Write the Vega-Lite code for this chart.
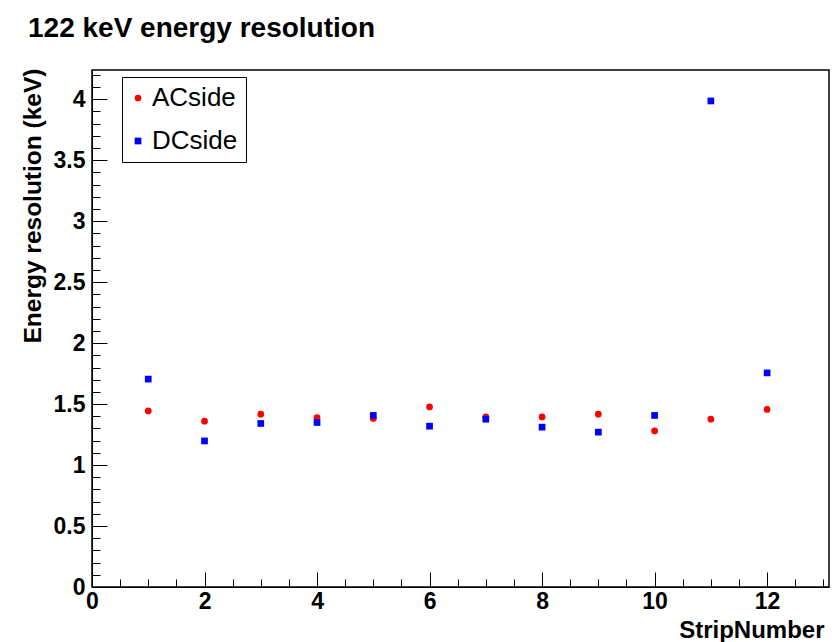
{
  "$schema": "https://vega.github.io/schema/vega-lite/v6.json",
  "autosize": "none",
  "padding": {"left": 92, "top": 70, "right": 4, "bottom": 55},
  "width": 737,
  "height": 517,
  "background": "white",
  "title": {
    "text": "122 keV energy resolution",
    "anchor": "start",
    "frame": "group",
    "dx": -64,
    "dy": 31,
    "offset": 34,
    "baseline": "alphabetic",
    "font": "Liberation Sans",
    "fontSize": 28,
    "fontWeight": "bold",
    "color": "black"
  },
  "data": {
    "values": [
      {"strip": 1, "series": "ACside", "value": 1.444},
      {"strip": 2, "series": "ACside", "value": 1.360},
      {"strip": 3, "series": "ACside", "value": 1.417},
      {"strip": 4, "series": "ACside", "value": 1.390},
      {"strip": 5, "series": "ACside", "value": 1.382},
      {"strip": 6, "series": "ACside", "value": 1.477},
      {"strip": 7, "series": "ACside", "value": 1.395},
      {"strip": 8, "series": "ACside", "value": 1.395},
      {"strip": 9, "series": "ACside", "value": 1.417},
      {"strip": 10, "series": "ACside", "value": 1.280},
      {"strip": 11, "series": "ACside", "value": 1.376},
      {"strip": 12, "series": "ACside", "value": 1.456},
      {"strip": 1, "series": "DCside", "value": 1.705},
      {"strip": 2, "series": "DCside", "value": 1.198},
      {"strip": 3, "series": "DCside", "value": 1.341},
      {"strip": 4, "series": "DCside", "value": 1.349},
      {"strip": 5, "series": "DCside", "value": 1.407},
      {"strip": 6, "series": "DCside", "value": 1.319},
      {"strip": 7, "series": "DCside", "value": 1.376},
      {"strip": 8, "series": "DCside", "value": 1.311},
      {"strip": 9, "series": "DCside", "value": 1.270},
      {"strip": 10, "series": "DCside", "value": 1.407},
      {"strip": 11, "series": "DCside", "value": 3.986},
      {"strip": 12, "series": "DCside", "value": 1.756}
    ]
  },
  "layer": [
    {
      "mark": {"type": "point", "filled": true, "opacity": 1, "size": 45},
      "encoding": {
        "x": {
          "field": "strip", "type": "quantitative",
          "scale": {"domain": [0, 13.1], "nice": false, "zero": false},
          "axis": {
            "orient": "bottom",
            "values": [0, 2, 4, 6, 8, 10, 12],
            "format": "~g",
            "grid": false,
            "tickSize": -15,
            "labelPadding": 18,
            "labelFlush": false,
            "labelFont": "Liberation Sans",
            "labelFontSize": 23,
            "labelFontWeight": "bold",
            "labelColor": "black",
            "domainColor": "black",
            "tickColor": "black",
            "title": "StripNumber",
            "titleFont": "Liberation Sans",
            "titleFontSize": 24,
            "titleFontWeight": "bold",
            "titleColor": "black",
            "titleX": 732,
            "titleY": 50,
            "titleAlign": "right",
            "titleBaseline": "alphabetic",
            "labelOverlap": false
          }
        },
        "y": {
          "field": "value", "type": "quantitative",
          "scale": {"domain": [0, 4.24], "nice": false, "zero": false},
          "axis": {
            "orient": "left",
            "values": [0, 0.5, 1, 1.5, 2, 2.5, 3, 3.5, 4],
            "format": "~g",
            "grid": false,
            "tickSize": -15,
            "labelPadding": 22,
            "labelFlush": false,
            "labelFont": "Liberation Sans",
            "labelFontSize": 23,
            "labelFontWeight": "bold",
            "labelColor": "black",
            "domainColor": "black",
            "tickColor": "black",
            "title": "Energy resolution (keV)",
            "titleFont": "Liberation Sans",
            "titleFontSize": 24.5,
            "titleFontWeight": "bold",
            "titleColor": "black",
            "titleAngle": 270,
            "titleAlign": "right",
            "titleBaseline": "middle",
            "titleX": -59,
            "titleY": -2,
            "labelOverlap": false
          }
        },
        "color": {
          "field": "series", "type": "nominal",
          "scale": {"domain": ["ACside", "DCside"], "range": ["#ff0000", "#0000ff"]},
          "legend": {
            "title": null,
            "orient": "none",
            "legendX": 30,
            "legendY": 7,
            "strokeColor": "black",
            "fillColor": "white",
            "padding": 8,
            "labelFont": "Liberation Sans",
            "labelFontSize": 26,
            "labelColor": "black",
            "symbolSize": 45,
            "rowPadding": 17,
            "symbolOffset": -5,
            "labelOffset": 1
          }
        },
        "shape": {
          "field": "series", "type": "nominal",
          "scale": {"domain": ["ACside", "DCside"], "range": ["circle", "square"]},
          "legend": {
            "title": null,
            "orient": "none",
            "legendX": 30,
            "legendY": 7,
            "strokeColor": "black",
            "fillColor": "white",
            "padding": 8,
            "labelFont": "Liberation Sans",
            "labelFontSize": 26,
            "labelColor": "black",
            "symbolSize": 45,
            "rowPadding": 17,
            "symbolOffset": -5,
            "labelOffset": 1
          }
        }
      }
    },
    {
      "mark": {"type": "point", "opacity": 0},
      "encoding": {
        "x": {
          "field": "strip", "type": "quantitative",
          "axis": {
            "orient": "bottom",
            "values": [0.5, 1, 1.5, 2.5, 3, 3.5, 4.5, 5, 5.5, 6.5, 7, 7.5, 8.5, 9, 9.5, 10.5, 11, 11.5, 12.5, 13],
            "grid": false, "labels": false, "domain": false,
            "tickSize": -8, "tickColor": "black", "title": null
          }
        },
        "y": {
          "field": "value", "type": "quantitative",
          "axis": {
            "orient": "left",
            "values": [0.1, 0.2, 0.3, 0.4, 0.6, 0.7, 0.8, 0.9, 1.1, 1.2, 1.3, 1.4, 1.6, 1.7, 1.8, 1.9, 2.1, 2.2, 2.3, 2.4, 2.6, 2.7, 2.8, 2.9, 3.1, 3.2, 3.3, 3.4, 3.6, 3.7, 3.8, 3.9, 4.1, 4.2],
            "grid": false, "labels": false, "domain": false,
            "tickSize": -8, "tickColor": "black", "title": null
          }
        }
      }
    }
  ],
  "resolve": {"axis": {"x": "independent", "y": "independent"}},
  "config": {
    "view": {"stroke": "black", "strokeWidth": 1.5},
    "axis": {"domainWidth": 1, "tickWidth": 1}
  }
}
